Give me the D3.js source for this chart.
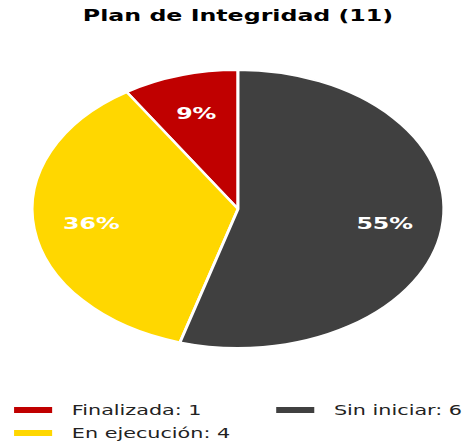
<!DOCTYPE html>
<html><head><meta charset="utf-8">
<script src="https://cdn.jsdelivr.net/npm/d3@7"></script>
<style>html,body{margin:0;padding:0;background:#fff;overflow:hidden}</style>
</head><body>
<script>
const categories = ["Finalizada", "En ejecución", "Sin iniciar"];
const values = [1, 4, 6];
const colors = ["#C00000", "#FFD700", "#404040"];
const title = "Plan de Integridad (11)";

const W = 465, H = 442, sx = 1.481, sy = 1;
const svg = d3.select("body").append("svg").attr("width", W).attr("height", H);
const g = svg.append("g").attr("transform", `scale(${sx},${sy})`);
const cx = 238 / sx, cy = 209, r = 139;

g.append("text").attr("x", 238 / sx).attr("y", 21).attr("text-anchor", "middle")
  .attr("font-family", "DejaVu Sans").attr("font-weight", "bold").attr("font-size", 16)
  .attr("fill", "#000").text(title);

const total = d3.sum(values);
const pie = d3.pie().sort(null).startAngle(0).endAngle(-2 * Math.PI);
const arcs = pie(values);
const arc = d3.arc().innerRadius(0).outerRadius(r);
const labelArc = d3.arc().innerRadius(r * 0.72).outerRadius(r * 0.72);
const pg = g.append("g").attr("transform", `translate(${cx},${cy})`);
pg.selectAll("path").data(arcs).join("path")
  .attr("d", arc).attr("fill", (d, i) => colors[i])
  .attr("stroke", "#fff").attr("stroke-width", 2);
pg.selectAll("text").data(arcs).join("text")
  .attr("transform", d => `translate(${labelArc.centroid(d)})`)
  .attr("text-anchor", "middle").attr("dy", "0.36em")
  .attr("font-family", "DejaVu Sans").attr("font-weight", "bold").attr("font-size", 16)
  .attr("fill", "#fff").text(d => Math.round(d.data / total * 100) + "%");

const legPos = [[9.5, 410], [9.5, 433], [186.5, 410]];
const lg = g.selectAll("g.leg").data(categories).join("g").attr("class", "leg")
  .attr("transform", (d, i) => `translate(${legPos[i][0]},${legPos[i][1]})`);
lg.append("rect").attr("x", 0).attr("y", -3).attr("width", 25.7).attr("height", 6)
  .attr("fill", (d, i) => colors[i]);
lg.append("text").attr("x", 39).attr("y", 0).attr("dy", "0.36em")
  .attr("font-family", "DejaVu Sans").attr("font-size", 14).attr("fill", "#222")
  .text((d, i) => d + ": " + values[i]);
</script>
</body></html>
